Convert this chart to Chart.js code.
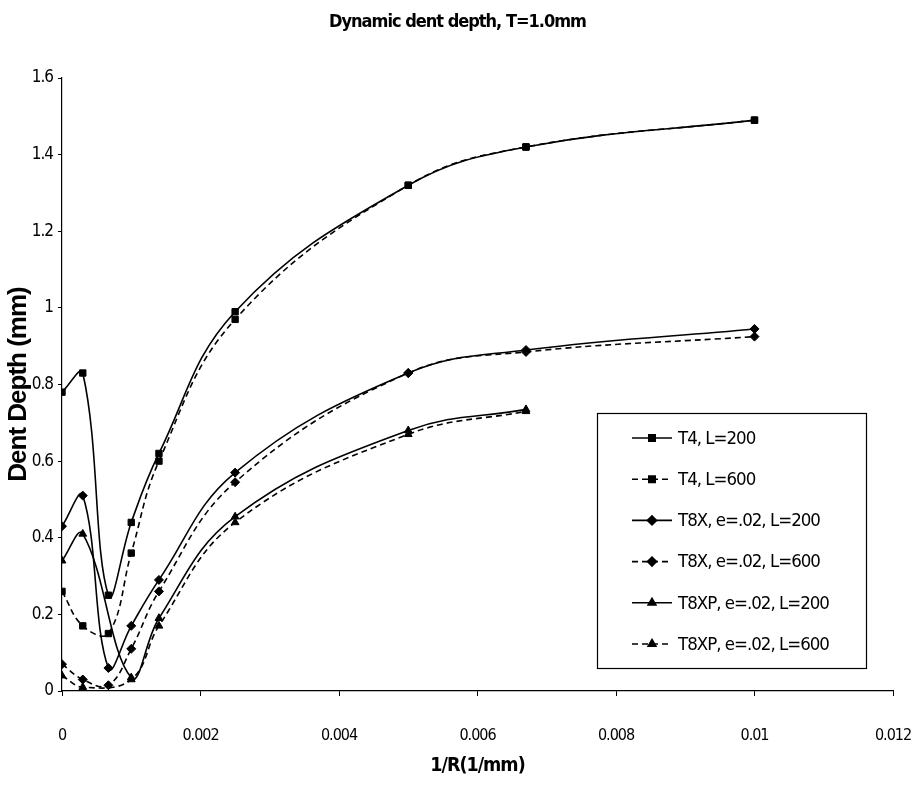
<!DOCTYPE html>
<html><head><meta charset="utf-8">
<script src="https://cdn.jsdelivr.net/npm/chart.js@4.4.1/dist/chart.umd.min.js"></script>
<style>html,body{margin:0;padding:0;background:#fff}#wrap{width:915px;height:792px}</style>
</head><body><div id="wrap"><canvas id="c" width="915" height="792"></canvas></div>
<script>
// 1/R values (1/mm)
const inverseRadius = [0, 0.0003, 0.00067, 0.001, 0.0014, 0.0025, 0.005, 0.0067, 0.01];
// Dent depth (mm)
const t4L200   = [0.78, 0.83, 0.25, 0.44, 0.62, 0.99, 1.32, 1.42, 1.49];
const t4L600   = [0.26, 0.17, 0.15, 0.36, 0.60, 0.97, 1.32, 1.42, 1.49];
const t8xL200  = [0.43, 0.51, 0.06, 0.17, 0.29, 0.57, 0.83, 0.89, 0.945];
const t8xL600  = [0.07, 0.03, 0.015, 0.11, 0.26, 0.545, 0.83, 0.885, 0.925];
const t8xpL200 = [0.34, 0.41, null, 0.035, 0.19, 0.455, 0.68, 0.735, null];
const t8xpL600 = [0.04, 0.01, null, 0.03, 0.17, 0.44, 0.67, 0.73, null];
const seriesLabels = ['T4, L=200', 'T4, L=600', 'T8X, e=.02, L=200', 'T8X, e=.02, L=600', 'T8XP, e=.02, L=200', 'T8XP, e=.02, L=600'];
const chartTitle = 'Dynamic dent depth, T=1.0mm';
const xTitle = '1/R(1/mm)';
const yTitle = 'Dent Depth (mm)';

const NARROW = '"DejaVu Sans Condensed", "Liberation Sans Narrow", "Liberation Sans", sans-serif';
const SANS = '"Liberation Sans", Arial, sans-serif';

function pts(ys){ return inverseRadius.map((x,i)=>({x:x, y:ys[i]})); }
const styles = [
  {d:t4L200, dash:[], pt:'rect'},
  {d:t4L600, dash:[6,4], pt:'rect'},
  {d:t8xL200, dash:[], pt:'rectRot'},
  {d:t8xL600, dash:[6,4], pt:'rectRot'},
  {d:t8xpL200, dash:[], pt:'triangle'},
  {d:t8xpL600, dash:[6,4], pt:'triangle'}
];
const datasets = styles.map((s,i)=>({
  label: seriesLabels[i],
  data: pts(s.d),
  borderColor:'#000', backgroundColor:'#000',
  borderWidth:1.6, borderDash:s.dash,
  pointStyle:s.pt, pointRadius:4.5, pointBackgroundColor:'#000', pointBorderColor:'#000', pointBorderWidth:1,
  tension:0.4, spanGaps:true, fill:false
}));

const tightText = {
  id:'tightText',
  beforeDraw(chart){ chart.ctx.letterSpacing = '-1px'; }
};

const boxLegend = {
  id:'boxLegend',
  afterDraw(chart){
    const ctx = chart.ctx;
    const L=597, T=413, R=866, B=668;
    ctx.save();
    ctx.fillStyle='#fff'; ctx.fillRect(L,T,R-L,B-T);
    ctx.strokeStyle='#000'; ctx.lineWidth=1.2; ctx.setLineDash([]);
    ctx.strokeRect(L+0.5,T+0.5,R-L,B-T);
    chart.data.datasets.forEach((ds,i)=>{
      const y = 438 + i*41.2;
      ctx.strokeStyle='#000'; ctx.lineWidth=1.6;
      ctx.setLineDash(ds.borderDash||[]);
      ctx.beginPath(); ctx.moveTo(632,y); ctx.lineTo(672,y); ctx.stroke();
      ctx.setLineDash([]);
      ctx.fillStyle='#000';
      Chart.helpers.drawPoint(ctx,{pointStyle:ds.pointStyle, radius:4.5, rotation:0, borderWidth:1}, 652, y);
      ctx.font = '18.5px ' + NARROW;
      ctx.textBaseline='middle'; ctx.textAlign='left';
      ctx.fillText(ds.label, 678, y+1);
    });
    ctx.restore();
  }
};

new Chart(document.getElementById('c'), {
  type:'line',
  data:{datasets:datasets},
  options:{
    responsive:false, animation:false, devicePixelRatio:1,
    layout:{padding:{left:0,right:0,top:0,bottom:0}},
    plugins:{
      legend:{display:false}, tooltip:{enabled:false},
      title:{display:true, text:chartTitle, color:'#000',
        font:{family:NARROW, size:18, weight:'bold', lineHeight:1.2},
        padding:{top:12, bottom:44.4}}
    },
    scales:{
      x:{type:'linear', min:0, max:0.012,
        afterFit(s){ s.height = 101; s.paddingRight = 22; s.paddingLeft = 0; },
        border:{color:'#000', width:1.2},
        grid:{display:true, drawOnChartArea:false, drawTicks:true, tickLength:5, color:'#000'},
        ticks:{stepSize:0.002, color:'#000', padding:30, maxRotation:0,
          font:{family:NARROW, size:16},
          callback:v=>String(Number(v.toFixed(3)))},
        title:{display:true, text:xTitle, color:'#000',
          font:{family:NARROW, size:19.5, weight:'bold', lineHeight:1.2}, padding:{top:0,bottom:14}}
      },
      y:{type:'linear', min:0, max:1.6,
        afterFit(s){ s.width = 62; },
        border:{color:'#000', width:1.2},
        grid:{display:true, drawOnChartArea:false, drawTicks:true, tickLength:4, color:'#000'},
        ticks:{stepSize:0.2, color:'#000', padding:5,
          font:{family:NARROW, size:17},
          callback:v=>String(Number(v.toFixed(1)))},
        title:{display:true, text:yTitle, color:'#000',
          font:{family:SANS, size:26, weight:'bold', lineHeight:1.2}, padding:{top:3,bottom:0}}
      }
    }
  },
  plugins:[tightText, boxLegend]
});
</script></body></html>
